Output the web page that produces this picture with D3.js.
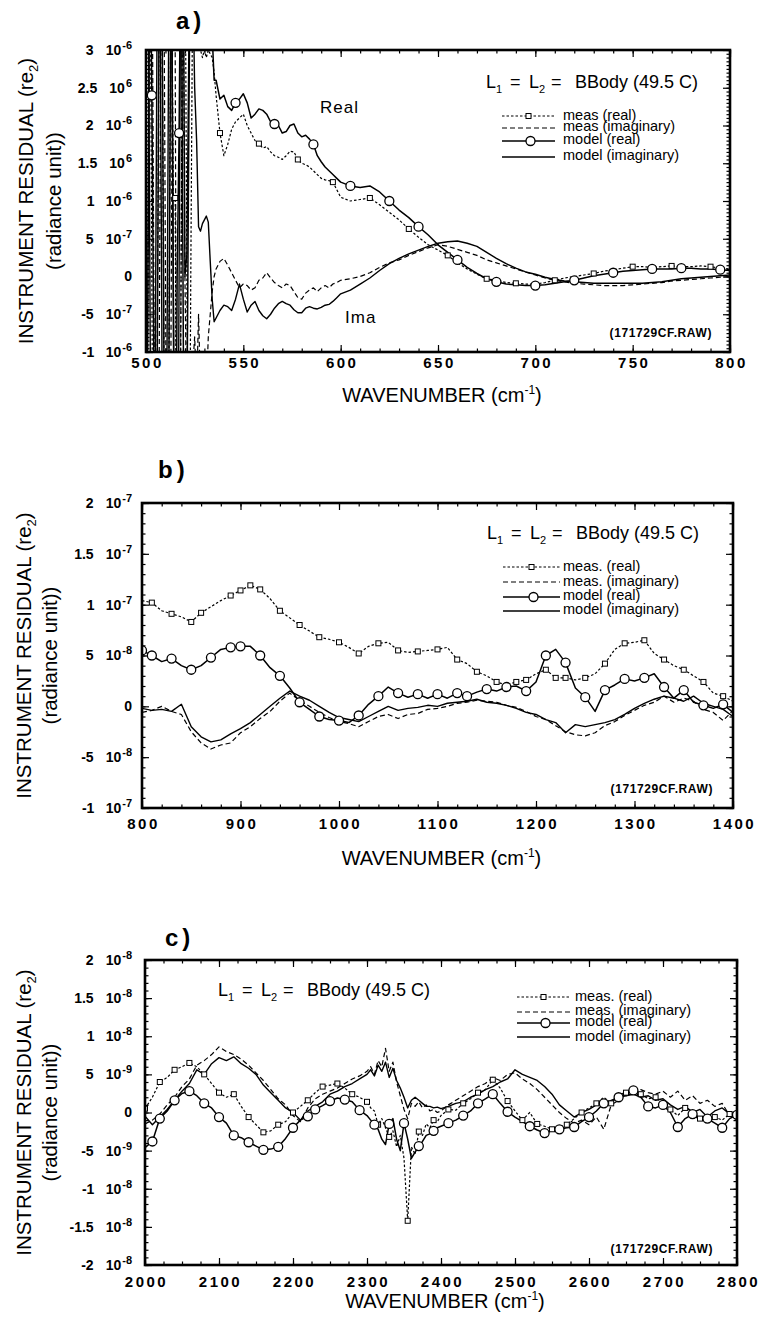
<!DOCTYPE html>
<html>
<head>
<meta charset="utf-8">
<script src="https://cdn.jsdelivr.net/npm/d3@7"></script>
<style>
  body { margin: 0; background: #fff; }
  svg text { font-family: "Liberation Sans", Arial, Helvetica, sans-serif; fill: #000; }
</style>
</head>
<body>
<svg id="fig" width="762" height="1325"></svg>
<script>
// ---------- panel a : 500-800 cm-1, values in 1e-6 ----------
var aWave = [500,501,502,503,504,505,506,507,508,509,510,511,512,513,514,515,516,517,518,519,520,521,522,523,524,525,526,527,528,529,530,531,532,533,534,535,
  536,538,540,542,544,546,548,550,552,554,556,558,560,562,564,566,568,570,572,574,576,578,580,582,584,586,588,590,592,594,596,598,600,
  605,610,615,620,625,630,635,640,645,650,655,660,665,670,675,680,685,690,695,700,705,710,715,720,725,730,735,740,745,750,755,760,765,770,775,780,785,790,795,800];
var aMeasReal = [2.5,5,5,0,-5,-5,0,5,5,0,-5,-5,0,5,1.04,1.04,-5,-5,0,5,5,0,-5,0,4,4,3.5,3.2,3.0,2.9,3.0,2.9,3.0,2.95,2.9,2.7,
  2.4,1.9,1.6,1.75,1.95,2.05,2.1,2.15,2.0,1.9,1.8,1.76,1.7,1.72,1.65,1.6,1.58,1.55,1.6,1.66,1.65,1.55,1.5,1.48,1.45,1.4,1.35,1.3,1.28,1.27,1.25,1.15,1.05,
  1.0,1.02,1.04,0.95,0.85,0.75,0.63,0.52,0.42,0.35,0.28,0.18,0.1,0.03,-0.03,-0.05,-0.08,-0.09,-0.1,-0.1,-0.08,-0.05,-0.02,0.0,0.02,0.04,0.07,0.09,0.11,0.13,0.13,0.12,0.13,0.14,0.13,0.13,0.14,0.13,0.11,0.1];
var aMeasImag = [-5,0,5,5,0,-5,-5,0,5,5,0,-5,-5,0,5,3,-5,-5,0,5,0,-2,-2,-1.5,-1.2,-0.8,-1.5,-0.5,-1.5,-1.5,-1.2,-1.5,-0.8,-0.5,-0.2,0.0,
  0.1,0.2,0.24,0.15,0.05,-0.05,-0.15,-0.1,-0.12,-0.18,-0.15,-0.05,-0.02,0.05,-0.02,-0.08,-0.12,-0.15,-0.1,-0.12,-0.2,-0.28,-0.3,-0.22,-0.18,-0.15,-0.2,-0.15,-0.12,-0.15,-0.1,-0.08,-0.05,
  -0.03,0.0,0.05,0.12,0.18,0.22,0.28,0.33,0.38,0.42,0.4,0.36,0.32,0.28,0.22,0.18,0.14,0.1,0.06,0.02,-0.02,-0.05,-0.07,-0.09,-0.1,-0.11,-0.12,-0.12,-0.12,-0.11,-0.1,-0.09,-0.08,-0.06,-0.05,-0.04,-0.03,-0.02,-0.01,0.0];
var aModReal = [-5,0,5,2.4,-1,-5,0,5,5,0,-5,-5,0,5,0,-5,0,1.9,5,0,-5,-2,2,5,5,5,4,4.5,4.5,4.5,4.5,4.5,4.5,4,3.2,2.6,
  2.6,2.35,2.4,2.25,2.2,2.3,2.35,2.42,2.3,2.1,2.15,2.22,2.2,2.15,2.05,2.02,2.0,1.9,1.92,2.0,2.02,1.9,1.85,1.87,1.82,1.75,1.6,1.52,1.45,1.4,1.35,1.3,1.25,
  1.2,1.18,1.2,1.12,1.0,0.88,0.78,0.66,0.55,0.42,0.32,0.22,0.12,0.04,-0.03,-0.07,-0.1,-0.11,-0.12,-0.12,-0.11,-0.09,-0.07,-0.05,-0.02,0.01,0.03,0.05,0.07,0.08,0.09,0.1,0.1,0.1,0.11,0.11,0.1,0.1,0.09,0.08];
var aModImag = [5,5,0,-5,-5,0,5,5,0,-5,-5,0,5,5,0,-5,-5,0,5,5,0,0.3,3,5,4,2.5,1.8,0.66,0.6,0.7,0.75,0.8,0.72,0.2,-0.3,-0.6,
  -0.55,-0.45,-0.38,-0.4,-0.45,-0.3,-0.1,-0.3,-0.47,-0.38,-0.33,-0.45,-0.52,-0.56,-0.5,-0.42,-0.36,-0.33,-0.36,-0.38,-0.44,-0.48,-0.48,-0.42,-0.4,-0.42,-0.43,-0.41,-0.38,-0.37,-0.33,-0.28,-0.23,
  -0.18,-0.1,-0.02,0.08,0.17,0.24,0.3,0.35,0.4,0.44,0.46,0.47,0.44,0.4,0.32,0.24,0.17,0.11,0.06,0.03,-0.01,-0.04,-0.06,-0.07,-0.08,-0.09,-0.09,-0.09,-0.09,-0.09,-0.09,-0.08,-0.07,-0.05,-0.03,-0.02,-0.01,0.0,0.01,0.02];
var aCircleX = [503,517,546,566,586,604,623,642,661,680,700,719,738,758,777,797];
var aSquareX = [515,538,558,578,596,615,635,655,675,690,710,730,750,770,790];
var aXTicks = [500,550,600,650,700,750,800];
var aYTicks = [-1,-0.5,0,0.5,1,1.5,2,2.5,3];
var aYLabels = [["-1","-6"],["-5","-7"],["0",""],["5","-7"],["1","-6"],["1.5","6"],["2","-6"],["2.5","6"],["3","-6"]];
var aLegend = ["meas  (real)","meas  (imaginary)","model (real)","model (imaginary)"];

// ---------- panel b : 800-1400 cm-1, values in 1e-8 ----------
var bWave = [800,810,820,830,840,850,860,870,880,890,900,910,920,930,940,950,960,970,980,990,1000,1010,1020,1030,1040,1050,1060,1070,1080,1090,
  1100,1110,1120,1130,1140,1150,1160,1170,1180,1190,1200,1210,1220,1230,1240,1250,1260,1270,1280,1290,1300,1310,1320,1330,1340,1350,1360,1370,1380,1390,1400];
var bMeasReal = [10.4,10.2,9.4,9.1,8.8,8.3,9.2,9.8,10.4,10.9,11.4,11.9,11.5,10.6,9.4,8.7,8.0,7.4,6.8,6.6,6.3,5.8,5.2,5.9,6.2,6.3,5.5,5.3,5.4,5.5,
  5.6,5.8,4.6,4.2,3.4,3.0,2.4,2.1,2.4,2.6,3.2,3.6,2.8,2.8,2.6,2.8,3.2,4.2,5.6,6.2,6.3,6.5,5.2,4.6,4.0,3.6,3.0,2.4,1.3,1.0,0.5];
var bMeasImag = [-0.6,-0.4,0.0,-0.5,-0.8,-2.5,-3.6,-4.2,-3.8,-3.6,-2.6,-2.0,-1.2,-0.5,0.5,1.3,0.6,0.0,-0.6,-1.1,-1.5,-1.7,-2.0,-1.5,-1.0,-0.8,-1.2,-0.8,-0.7,-0.3,
  -0.2,0.0,0.3,0.4,0.6,0.5,0.4,0.1,-0.1,-0.5,-1.0,-1.3,-1.9,-2.5,-2.8,-2.9,-2.6,-1.9,-1.5,-0.9,-0.4,0.1,0.4,1.0,0.4,0.8,0.5,-0.3,-0.6,-1.4,-0.4];
var bModReal = [5.5,5.0,4.4,4.7,4.0,3.6,4.0,4.8,5.6,5.8,5.9,5.9,5.0,3.8,3.0,1.8,0.4,-0.3,-1.0,-1.3,-1.4,-1.6,-0.9,0.2,1.0,1.9,1.3,0.9,1.2,0.8,
  1.2,0.8,1.3,1.0,1.4,1.7,1.5,1.9,2.0,1.5,2.4,5.0,5.6,4.3,1.8,0.9,-0.5,1.6,2.1,2.7,2.5,2.8,3.2,1.9,0.8,1.6,0.4,0.1,-0.2,0.2,-0.6];
var bModImag = [-0.2,-0.4,-0.3,-0.5,0.2,-2.0,-3.0,-3.5,-3.3,-2.7,-2.2,-1.6,-0.8,0.0,0.8,1.5,1.0,0.6,0.0,-0.6,-1.1,-1.3,-1.5,-1.0,-0.5,0.0,-0.4,-0.2,-0.1,0.1,
  0.0,0.3,0.4,0.5,0.7,0.4,0.3,0.1,-0.2,-0.6,-0.8,-1.3,-1.6,-2.6,-1.8,-2.0,-1.8,-1.6,-1.3,-0.8,-0.2,0.3,0.7,1.0,0.8,0.5,1.0,0.3,0.0,-0.3,-1.0];
var bCircleX = [800,810,830,850,870,890,900,920,940,960,980,1000,1020,1040,1060,1080,1100,1120,1130,1150,1170,1190,1210,1230,1250,1270,1290,1310,1330,1350,1370,1390];
var bSquareX = [810,830,850,860,890,900,910,920,940,960,980,1000,1020,1040,1060,1080,1100,1120,1140,1160,1180,1190,1210,1220,1230,1250,1270,1290,1310,1330,1350,1370,1390];
var bXTicks = [800,900,1000,1100,1200,1300,1400];
var bYTicks = [-10,-5,0,5,10,15,20];
var bYLabels = [["-1","-7"],["-5","-8"],["0",""],["5","-8"],["1","-7"],["1.5","-7"],["2","-7"]];
var bLegend = ["meas. (real)","meas. (imaginary)","model (real)","model (imaginary)"];

// ---------- panel c : 2000-2800 cm-1, values in 1e-9 ----------
var cWave = [2000,2010,2020,2030,2040,2050,2060,2070,2080,2090,2100,2110,2120,2130,2140,2150,2160,2170,2180,2190,2200,2210,2220,2230,2240,2250,2260,2270,2280,2290,2300,
  2305,2310,2315,2320,2325,2330,2335,2340,2345,2350,2355,2360,2365,2370,2375,2380,2385,2390,2395,2400,
  2410,2420,2430,2440,2450,2460,2470,2480,2490,2500,2510,2520,2530,2540,2550,2560,2570,2580,2590,2600,2610,2620,2630,2640,2650,2660,2670,2680,2690,2700,2710,2720,2730,2740,2750,2760,2770,2780,2790,2800];
var cMeasReal = [0.5,2.0,4.0,4.6,5.6,6.0,6.5,6.0,5.0,3.8,2.6,2.0,2.4,0.8,-0.6,-1.6,-2.6,-2.4,-1.6,-1.2,0.0,0.8,1.6,2.6,3.4,3.6,3.8,3.2,2.4,2.0,1.4,
  0.6,0.2,-1.6,-0.8,-2.0,-3.2,-2.4,-4.5,-3.0,-6.0,-14.2,-4.5,-5.5,-2.5,-3.0,-1.5,-2.0,-1.0,-1.2,-0.4,
  0.4,0.3,1.2,1.8,2.6,3.0,4.3,3.2,1.5,0.2,-1.0,0.0,-1.5,-1.8,-2.2,-1.8,-1.6,-0.8,0.0,0.6,1.2,2.0,1.2,2.4,2.6,3.0,2.4,1.8,2.0,1.2,0.4,-0.4,0.6,0.2,-0.8,-1.2,-0.6,-1.0,-0.2,0.2];
var cMeasImag = [-1.5,-1.0,-0.2,1.0,2.0,3.4,4.4,6.2,6.8,7.6,8.6,8.0,7.6,7.0,6.2,5.2,4.2,3.0,1.8,1.0,-0.4,-1.2,0.6,1.8,2.4,2.8,3.2,3.8,4.4,4.8,5.4,
  6.0,5.0,6.8,6.0,8.4,5.4,6.6,4.0,2.2,0.4,-0.8,1.2,0.8,1.4,0.6,1.0,0.2,0.4,0.0,0.2,
  1.0,1.6,2.2,2.8,3.4,3.8,4.6,4.2,5.0,5.2,4.4,3.8,3.0,2.0,1.0,0.0,-0.8,-1.4,-1.0,-1.6,-0.6,-2.2,1.0,1.6,2.2,2.6,3.0,2.6,2.4,2.8,2.0,2.8,1.6,2.2,1.2,1.6,0.8,1.2,-0.4,-0.8];
var cModReal = [-4.6,-3.8,-0.8,0.2,1.6,2.5,2.8,2.2,1.2,0.6,-0.6,-1.4,-3.0,-3.3,-3.9,-4.4,-4.9,-4.8,-4.5,-3.4,-2.0,-1.0,-0.5,0.4,0.9,1.5,1.9,1.7,1.4,0.3,-0.4,
  -1.0,-1.6,-2.2,-3.5,-4.2,-1.5,-0.8,-3.5,-5.0,-1.4,-3.5,-6.0,-5.2,-4.4,-3.8,-3.0,-2.8,-2.4,-2.0,-1.8,
  -1.4,-1.0,-0.4,0.2,1.2,1.8,2.4,1.2,0.1,-0.6,-1.2,-1.8,-2.3,-2.7,-2.4,-2.2,-2.0,-1.9,-1.2,-0.6,0.2,1.2,1.4,2.0,2.4,2.9,2.0,0.8,0.6,1.0,0.0,-1.9,-0.8,-0.2,-1.0,-0.8,-1.4,-2.0,-0.8,-0.3];
var cModImag = [-0.5,-1.6,-0.6,0.4,1.6,2.8,3.8,5.6,5.0,6.4,7.2,6.8,7.3,6.4,5.8,5.0,3.6,2.6,1.6,0.6,0.0,-1.0,0.2,0.8,1.4,2.4,2.8,3.4,3.8,4.4,5.0,
  5.6,4.8,6.2,5.4,6.6,4.6,5.8,4.2,3.2,2.0,0.6,1.6,2.0,1.6,1.2,0.8,0.8,0.6,0.7,0.5,
  0.8,1.2,1.4,2.0,2.4,3.0,3.4,4.0,4.4,5.6,5.0,4.6,4.2,3.4,2.4,1.0,0.2,-0.6,0.0,0.4,1.0,1.2,1.6,2.0,2.2,2.4,2.0,2.2,1.6,1.8,1.0,0.4,0.8,0.0,0.4,-0.6,0.2,0.6,-0.2,0.0];
var cCircleX = [2010,2020,2040,2060,2080,2100,2120,2140,2160,2180,2200,2220,2230,2250,2270,2290,2310,2330,2350,2370,2390,2410,2430,2450,2470,2490,2520,2540,2560,2580,2600,2620,2640,2660,2680,2700,2720,2740,2760,2780,2800];
var cSquareX = [2000,2020,2040,2060,2080,2100,2120,2140,2160,2180,2200,2220,2240,2260,2280,2300,2315,2330,2355,2370,2390,2410,2430,2450,2470,2490,2510,2530,2550,2570,2590,2610,2630,2650,2670,2690,2710,2730,2750,2770,2790];
var cXTicks = [2000,2100,2200,2300,2400,2500,2600,2700,2800];
var cYTicks = [-20,-15,-10,-5,0,5,10,15,20];
var cYLabels = [["-2","-8"],["-1.5","-8"],["-1","-8"],["-5","-9"],["0",""],["5","-9"],["1","-8"],["1.5","-8"],["2","-8"]];
var cLegend = ["meas. (real)","meas. (imaginary)","model (real)","model (imaginary)"];

var svg = d3.select("#fig");

// panel layout (pixel boxes and text spots)
var panels = [
  { id: "a", title: "a)", titleXY: [176, 29],
    wave: aWave, measReal: aMeasReal, measImag: aMeasImag, modReal: aModReal, modImag: aModImag,
    circleX: aCircleX, squareX: aSquareX, xTicks: aXTicks, yTicks: aYTicks, yLabels: aYLabels,
    xMinor: d3.range(500, 801, 10), yMinor: d3.range(-1, 3.001, 0.05),
    xDomain: [500, 800], yDomain: [-1, 3],
    l: 146, r: 730, t: 50, b: 352, xPad: 5, yPad: 14, xTitleY: 402, yTitleX: [33, 61],
    head: [486, 88], legendText: aLegend, legX: [502, 555, 563],
    legY: [116, 128, 141, 157], legTextY: [120, 131, 144, 160], raw: [712, 337],
    notes: [["Real", 320, 113], ["Ima", 345, 323]] },
  { id: "b", title: "b)", titleXY: [158, 478],
    wave: bWave, measReal: bMeasReal, measImag: bMeasImag, modReal: bModReal, modImag: bModImag,
    circleX: bCircleX, squareX: bSquareX, xTicks: bXTicks, yTicks: bYTicks, yLabels: bYLabels,
    xMinor: d3.range(800, 1401, 20), yMinor: d3.range(-10, 20.01, 1),
    xDomain: [800, 1400], yDomain: [-10, 20],
    l: 142, r: 733, t: 503, b: 808, xPad: 10, yPad: 10, xTitleY: 865, yTitleX: [31, 57],
    head: [487, 539], legendText: bLegend, legX: [503, 560, 563],
    legY: [567, 582, 597, 611], legTextY: [571, 586, 600, 614], raw: [713, 793],
    notes: [] },
  { id: "c", title: "c)", titleXY: [165, 946],
    wave: cWave, measReal: cMeasReal, measImag: cMeasImag, modReal: cModReal, modImag: cModImag,
    circleX: cCircleX, squareX: cSquareX, xTicks: cXTicks, yTicks: cYTicks, yLabels: cYLabels,
    xMinor: d3.range(2000, 2801, 25), yMinor: d3.range(-20, 20.01, 1),
    xDomain: [2000, 2800], yDomain: [-20, 20],
    l: 145, r: 737, t: 960, b: 1265, xPad: 11, yPad: 13, xTitleY: 1308, yTitleX: [31, 57],
    head: [218, 996], legendText: cLegend, legX: [517, 570, 575],
    legY: [997, 1012, 1023, 1037], legTextY: [1001, 1015, 1026, 1041], raw: [713, 1253],
    notes: [] }
];

var seriesStyle = {
  measReal: { dash: "2.5,2", width: 1.2 },
  measImag: { dash: "5,3", width: 1.2 },
  modReal:  { dash: null, width: 1.5 },
  modImag:  { dash: null, width: 1.4 }
};
var order = ["measReal", "measImag", "modReal", "modImag"];

// header "L1 = L2 = BBody (49.5 C)": pieces with their offset from the first L
var headPieces = [["L", 0, 0, 18], ["1", 10, 5, 11], ["=", 24, 0, 18], ["L", 43, 0, 18], ["2", 53, 5, 11], ["=", 65, 0, 18], ["BBody (49.5 C)", 89, 0, 18]];

function drawPanel(p) {
  var g = svg.append("g").attr("class", "panel-" + p.id);
  var x = d3.scaleLinear().domain(p.xDomain).range([p.l, p.r]);
  var y = d3.scaleLinear().domain(p.yDomain).range([p.b, p.t]);

  svg.append("clipPath").attr("id", "clip-" + p.id)
    .append("rect")
    .attr("x", p.l).attr("y", p.t)
    .attr("width", p.r - p.l).attr("height", p.b - p.t);

  // minor ticks on all four sides
  g.append("g").attr("transform", "translate(0," + p.b + ")")
    .call(d3.axisBottom(x).tickValues(p.xMinor).tickSizeInner(-3.5).tickSizeOuter(0).tickFormat(""));
  g.append("g").attr("transform", "translate(0," + p.t + ")")
    .call(d3.axisTop(x).tickValues(p.xMinor).tickSizeInner(-3.5).tickSizeOuter(0).tickFormat(""));
  g.append("g").attr("transform", "translate(" + p.l + ",0)")
    .call(d3.axisLeft(y).tickValues(p.yMinor).tickSizeInner(-3.5).tickSizeOuter(0).tickFormat(""));
  g.append("g").attr("transform", "translate(" + p.r + ",0)")
    .call(d3.axisRight(y).tickValues(p.yMinor).tickSizeInner(-3.5).tickSizeOuter(0).tickFormat(""));

  // major ticks
  var xb = g.append("g").attr("transform", "translate(0," + p.b + ")")
    .call(d3.axisBottom(x).tickValues(p.xTicks).tickSizeInner(-7).tickSizeOuter(0).tickPadding(p.xPad).tickFormat(d3.format("d")));
  xb.attr("font-size", 15).attr("font-weight", "bold").attr("font-family", null);
  xb.selectAll(".tick text").attr("letter-spacing", "2.5px").attr("dx", "1px");
  g.append("g").attr("transform", "translate(0," + p.t + ")")
    .call(d3.axisTop(x).tickValues(p.xTicks).tickSizeInner(-7).tickSizeOuter(0).tickFormat(""));
  var yl = g.append("g").attr("transform", "translate(" + p.l + ",0)")
    .call(d3.axisLeft(y).tickValues(p.yTicks).tickSizeInner(-7).tickSizeOuter(0).tickPadding(p.yPad).tickFormat(""));
  yl.attr("font-size", 14).attr("font-weight", "bold").attr("font-family", null);
  yl.selectAll(".tick text").each(function (d, i) {
    var t = d3.select(this), lab = p.yLabels[i];
    t.append("tspan").text(lab[0]);
    if (lab[1]) {
      t.append("tspan").attr("dx", 12).text("10");
      t.append("tspan").attr("dy", -6).attr("dx", 1).attr("font-size", 11).text(lab[1]);
    }
  });
  g.append("g").attr("transform", "translate(" + p.r + ",0)")
    .call(d3.axisRight(y).tickValues(p.yTicks).tickSizeInner(-7).tickSizeOuter(0).tickFormat(""));

  g.selectAll(".domain").remove();
  g.selectAll(".tick line").attr("stroke-width", 1.2);

  // curves
  var plot = g.append("g").attr("clip-path", "url(#clip-" + p.id + ")");
  var line = d3.line().x(function (d, i) { return x(p.wave[i]); }).y(function (d) { return y(d); });
  order.forEach(function (key) {
    var s = seriesStyle[key];
    plot.append("path")
      .datum(p[key])
      .attr("d", line)
      .attr("fill", "none")
      .attr("stroke", "#000")
      .attr("stroke-width", s.width)
      .attr("stroke-linejoin", "round")
      .attr("stroke-dasharray", s.dash);
  });

  function nearest(w) {
    return d3.minIndex(p.wave, function (v) { return Math.abs(v - w); });
  }
  plot.selectAll("rect.sq").data(p.squareX.map(nearest)).join("rect")
    .attr("class", "sq")
    .attr("x", function (i) { return x(p.wave[i]) - 2.5; })
    .attr("y", function (i) { return y(p.measReal[i]) - 2.5; })
    .attr("width", 5).attr("height", 5)
    .attr("fill", "#fff").attr("stroke", "#000").attr("stroke-width", 1);
  plot.selectAll("circle.ci").data(p.circleX.map(nearest)).join("circle")
    .attr("class", "ci")
    .attr("cx", function (i) { return x(p.wave[i]); })
    .attr("cy", function (i) { return y(p.modReal[i]); })
    .attr("r", 4.5)
    .attr("fill", "#fff").attr("stroke", "#000").attr("stroke-width", 1.3);

  // frame
  g.append("rect")
    .attr("x", p.l).attr("y", p.t)
    .attr("width", p.r - p.l).attr("height", p.b - p.t)
    .attr("fill", "none").attr("stroke", "#000").attr("stroke-width", 2.6);

  // panel letter
  g.append("text").attr("x", p.titleXY[0]).attr("y", p.titleXY[1])
    .attr("font-size", 24).attr("font-weight", "bold").attr("letter-spacing", "4px")
    .text(p.title);

  // axis titles
  var xt = g.append("text").attr("x", (p.l + p.r) / 2 + 4).attr("y", p.xTitleY)
    .attr("text-anchor", "middle").attr("font-size", 20);
  xt.append("tspan").text("WAVENUMBER (cm");
  xt.append("tspan").attr("dy", -8).attr("font-size", 12).text("-1");
  xt.append("tspan").attr("dy", 8).text(")");

  var yc = (p.t + p.b) / 2;
  var yt = g.append("text")
    .attr("transform", "translate(" + p.yTitleX[0] + "," + yc + ") rotate(-90)")
    .attr("text-anchor", "middle").attr("font-size", 20.5);
  yt.append("tspan").text("INSTRUMENT RESIDUAL (re");
  yt.append("tspan").attr("dy", 5).attr("font-size", 13).text("2");
  yt.append("tspan").attr("dy", -5).text(")");
  g.append("text")
    .attr("transform", "translate(" + p.yTitleX[1] + "," + yc + ") rotate(-90)")
    .attr("text-anchor", "middle").attr("font-size", 20.5)
    .text("(radiance unit))");

  // legend header
  var h = g.append("text").attr("y", p.head[1]);
  headPieces.forEach(function (pc) {
    h.append("tspan").attr("x", p.head[0] + pc[1]).attr("y", p.head[1] + pc[2])
      .attr("font-size", pc[3]).text(pc[0]);
  });

  // legend rows
  var lx0 = p.legX[0], lx1 = p.legX[1], lt = p.legX[2];
  order.forEach(function (key, k) {
    var s = seriesStyle[key], ly = p.legY[k];
    g.append("line").attr("x1", lx0).attr("x2", lx1).attr("y1", ly).attr("y2", ly)
      .attr("stroke", "#000").attr("stroke-width", s.width).attr("stroke-dasharray", s.dash);
    if (key === "measReal") {
      g.append("rect").attr("x", (lx0 + lx1) / 2 - 2.5).attr("y", ly - 2.5).attr("width", 5).attr("height", 5)
        .attr("fill", "#fff").attr("stroke", "#000").attr("stroke-width", 1);
    }
    if (key === "modReal") {
      g.append("circle").attr("cx", (lx0 + lx1) / 2 + 2).attr("cy", ly).attr("r", 4.5)
        .attr("fill", "#fff").attr("stroke", "#000").attr("stroke-width", 1.3);
    }
    g.append("text").attr("x", lt).attr("y", p.legTextY[k]).attr("font-size", 14.5)
      .text(p.legendText[k]);
  });

  // file tag
  g.append("text").attr("x", p.raw[0]).attr("y", p.raw[1])
    .attr("text-anchor", "end").attr("font-size", 12).attr("font-weight", "bold")
    .attr("letter-spacing", "0.6px")
    .text("(171729CF.RAW)");

  p.notes.forEach(function (n) {
    g.append("text").attr("x", n[1]).attr("y", n[2]).attr("font-size", 17).attr("letter-spacing", "1px").text(n[0]);
  });
}

panels.forEach(drawPanel);
</script>
</body>
</html>
